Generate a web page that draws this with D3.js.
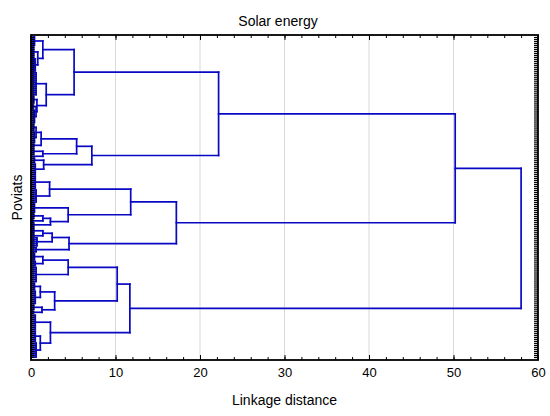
<!DOCTYPE html>
<html>
<head>
<meta charset="utf-8">
<script src="https://cdn.jsdelivr.net/npm/d3@7"></script>
<style>
  html, body { margin: 0; padding: 0; background: #fff; }
  svg { display: block; font-family: "Liberation Sans", Arial, sans-serif; }
</style>
</head>
<body>
<svg id="chart" width="550" height="416"></svg>
<script>
// ---- DATA ----
const title = "Solar energy";
const xTitle = "Linkage distance";
const yTitle = "Poviats";
const xTickValues = [0, 10, 20, 30, 40, 50, 60];
const xMinorTickValues = [0,2,4,6,8,10,12,14,16,18,20,22,24,26,28,30,32,34,36,38,40,42,44,46,48,50,52,54,56,58,60];
const gridValues = [10, 20, 30, 40, 50];

// terminal leaf groups (in display order, top to bottom): number of poviats and joining distance
const groupSizes   = [5, 6, 7, 12, 4, 3, 7, 4, 6, 2, 4, 1, 3, 6, 7, 7, 5, 3, 2, 2, 4, 1, 5, 3, 4, 3, 8, 4, 7, 3, 2, 8, 6, 8];
const groupHeights = [0.4, 0.3, 0.5, 0.6, 0.3, 0.2, 0.4, 0.3, 0.4, 0.3, 0.3, 0, 0.4, 0.5, 0.5, 0.6, 0.4, 0.3, 0.2, 0.3, 0.3, 0, 0.7, 0.6, 0.4, 0.5, 0.6, 0.4, 0.5, 0.3, 0.2, 0.5, 0.5, 0.6];

// merges: [child A id, child B id, linkage distance]; ids 0..33 are groups, 34.. are merges in order
const merges = [
  [1, 2, 0.8],    // 34
  [0, 34, 1.4],   // 35
  [5, 6, 0.6],    // 36
  [4, 36, 0.7],   // 37
  [3, 37, 1.8],   // 38
  [35, 38, 5.1],  // 39
  [7, 8, 0.6],    // 40
  [40, 9, 1.2],   // 41
  [10, 11, 1.4],  // 42
  [41, 42, 5.4],  // 43
  [12, 13, 1.5],  // 44
  [43, 44, 7.2],  // 45
  [39, 45, 22.2], // 46
  [14, 15, 2.2],  // 47
  [17, 18, 1.4],  // 48
  [48, 19, 2.3],  // 49
  [16, 49, 4.4],  // 50
  [47, 50, 11.8], // 51
  [20, 21, 1.4],  // 52
  [52, 22, 2.5],  // 53
  [53, 23, 4.5],  // 54
  [51, 54, 17.2], // 55
  [46, 55, 50.2], // 56
  [24, 25, 1.4],  // 57
  [57, 26, 4.4],  // 58
  [27, 28, 1.1],  // 59
  [29, 30, 1.3],  // 60
  [59, 60, 2.8],  // 61
  [58, 61, 10.2], // 62
  [32, 33, 1.1],  // 63
  [31, 63, 2.3],  // 64
  [62, 64, 11.7], // 65
  [56, 65, 58.0]  // 66
];

// ---- LAYOUT ----
const plot = { left: 31, right: 538, top: 35, bottom: 360 };
const nLeaves = d3.sum(groupSizes);

const x = d3.scaleLinear().domain([0, 60]).range([plot.left, plot.right]);
const y = d3.scaleLinear().domain([0, nLeaves - 1]).range([plot.top + 2, plot.bottom - 3]);

const svg = d3.select("#chart");
const blue = "#0808c4";

// grid
svg.append("g").selectAll("line").data(gridValues).join("line")
  .attr("x1", d => x(d)).attr("x2", d => x(d))
  .attr("y1", plot.top).attr("y2", plot.bottom)
  .attr("stroke", "#d9d9d9").attr("stroke-width", 1);

// build nodes
const nodes = [];
let start = 0;
groupSizes.forEach((n, i) => {
  const leaves = d3.range(start, start + n);
  start += n;
  nodes.push({ h: groupHeights[i], leaves, pos: (leaves[0] + leaves[leaves.length - 1]) / 2 });
});
merges.forEach(([a, b, h]) => {
  nodes.push({ h, children: [a, b], pos: (nodes[a].pos + nodes[b].pos) / 2 });
});

const segs = [];
nodes.forEach(nd => {
  if (nd.leaves) {
    nd.leaves.forEach(l => segs.push([0, l, nd.h, l]));
    if (nd.leaves.length > 1) segs.push([nd.h, nd.leaves[0], nd.h, nd.leaves[nd.leaves.length - 1]]);
  } else {
    const [a, b] = nd.children;
    segs.push([nodes[a].h, nodes[a].pos, nd.h, nodes[a].pos]);
    segs.push([nodes[b].h, nodes[b].pos, nd.h, nodes[b].pos]);
    segs.push([nd.h, nodes[a].pos, nd.h, nodes[b].pos]);
  }
});

svg.append("g").selectAll("line").data(segs).join("line")
  .attr("x1", d => x(d[0])).attr("y1", d => y(d[1]))
  .attr("x2", d => x(d[2])).attr("y2", d => y(d[3]))
  .attr("stroke", blue).attr("stroke-width", 1.7).attr("stroke-linecap", "square");

// axes
const leafIdx = d3.range(nLeaves);
function styleAxis(g) {
  g.select(".domain").remove();
  g.selectAll(".tick line").attr("stroke", "#000").attr("stroke-width", 1);
}
svg.append("g").attr("transform", `translate(${plot.left},0)`)
  .call(d3.axisLeft(y).tickValues(leafIdx).tickFormat("").tickSize(-3.5).tickSizeOuter(0))
  .call(styleAxis)
  .call(g => g.selectAll(".tick line").attr("stroke-width", 1.1));
svg.append("g").attr("transform", `translate(${plot.right},0)`)
  .call(d3.axisRight(y).tickValues(leafIdx).tickFormat("").tickSize(-4).tickSizeOuter(0))
  .call(styleAxis)
  .call(g => g.selectAll(".tick line").attr("stroke-width", 1.2));

svg.append("g").attr("transform", `translate(0,${plot.bottom})`)
  .call(d3.axisBottom(x).tickValues(xMinorTickValues).tickFormat("").tickSize(-3).tickSizeOuter(0))
  .call(styleAxis);
svg.append("g").attr("transform", `translate(0,${plot.bottom})`)
  .call(d3.axisBottom(x).tickValues(xTickValues).tickFormat(d3.format("d")).tickSize(-5).tickSizeOuter(0).tickPadding(8))
  .call(styleAxis)
  .call(g => g.selectAll("text").attr("font-size", 13).attr("fill", "#000").attr("font-family", "Liberation Sans, Arial, sans-serif"));
svg.append("g").attr("transform", `translate(0,${plot.top})`)
  .call(d3.axisTop(x).tickValues(xMinorTickValues).tickFormat("").tickSize(-3).tickSizeOuter(0))
  .call(styleAxis);
svg.append("g").attr("transform", `translate(0,${plot.top})`)
  .call(d3.axisTop(x).tickValues(xTickValues).tickFormat("").tickSize(-5).tickSizeOuter(0))
  .call(styleAxis);

// frame
svg.append("rect")
  .attr("x", plot.left).attr("y", plot.top)
  .attr("width", plot.right - plot.left).attr("height", plot.bottom - plot.top)
  .attr("fill", "none").attr("stroke", "#000").attr("stroke-width", 1.8);

// titles
svg.append("text").attr("x", 278).attr("y", 26).attr("text-anchor", "middle")
  .attr("font-size", 14).attr("fill", "#000").text(title);
svg.append("text").attr("x", (plot.left + plot.right) / 2).attr("y", 405).attr("text-anchor", "middle")
  .attr("font-size", 14).attr("fill", "#000").text(xTitle);
svg.append("text").attr("transform", `translate(22,${(plot.top + plot.bottom) / 2}) rotate(-90)`)
  .attr("text-anchor", "middle").attr("font-size", 14).attr("fill", "#000").text(yTitle);
</script>
</body>
</html>
